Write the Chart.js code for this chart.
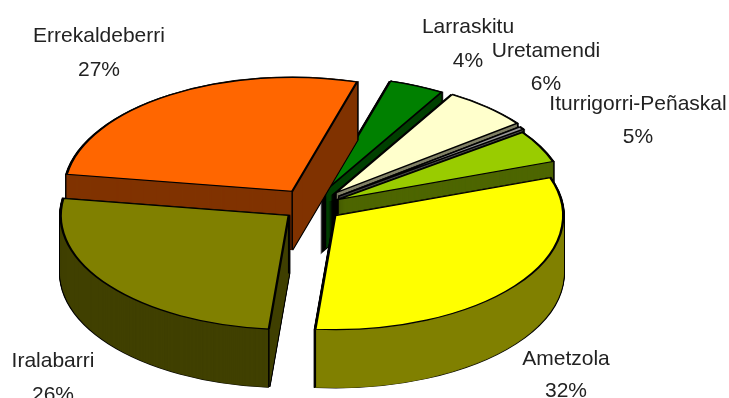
<!DOCTYPE html>
<html>
<head>
<meta charset="utf-8">
<style>
  html, body { margin: 0; padding: 0; background: #fff; overflow: hidden; }
  canvas { display: block; }
</style>
<script src="https://cdn.jsdelivr.net/npm/chart.js@4"></script>
</head>
<body>
<canvas id="pie" width="729" height="398"></canvas>
<script>
// clockwise from the left edge of Errekaldeberri
const categories = ["Errekaldeberri", "Larraskitu", "Uretamendi", "", "Iturrigorri-Peñaskal", "Ametzola", "Iralabarri"];
const values = [27.2, 3.9, 6.1, 0.4, 4.6, 31.8, 26];
const percentLabels = ["27%", "4%", "6%", "", "5%", "32%", "26%"];

const topColors = ["#FF6600", "#008000", "#FFFFCC", "#969696", "#99CC00", "#FFFF00", "#808000"];
const sideColors = ["#803300", "#004000", "#808066", "#4B4B4B", "#4D6600", "#808000", "#404000"];
const explode = [36, 35, 37, 34, 30, 30, 29];

// painter's order, back slices first
const drawOrder = [1, 2, 3, 4, 0, 6, 5];
const labelSpots = [[99, 42, 76], [468, 33, 67], [546, 57, 90], null, [638, 110, 143], [566, 365, 397], [53, 367, 401]];

const squash = 0.5;
const depth = 58;

function paintArc(ctx, arc, drop, fill, stroke, width) {
  const mid = (arc.startAngle + arc.endAngle) / 2;
  const saved = arc.options;
  arc.options = {
    offset: 0, spacing: 0, circular: true, borderRadius: 0,
    borderAlign: "center", borderJoinStyle: "miter", borderDash: [], borderDashOffset: 0,
    backgroundColor: fill, borderColor: stroke, borderWidth: width,
  };
  ctx.save();
  ctx.translate(0, drop + arc.y * (1 - squash));
  ctx.scale(1, squash);
  ctx.translate(Math.cos(mid) * saved.offset, Math.sin(mid) * saved.offset);
  arc.draw(ctx);
  ctx.restore();
  arc.options = saved;
}

// vertical edges at the apex and at rim corners facing the viewer
function paintEdges(ctx, arc) {
  const mid = (arc.startAngle + arc.endAngle) / 2;
  const ox = arc.x + Math.cos(mid) * arc.options.offset;
  const oy = arc.y + Math.sin(mid) * arc.options.offset * squash;
  const corners = [[ox, oy]];
  [arc.startAngle, arc.endAngle].forEach((a) => {
    if (Math.sin(a) > 0) {
      corners.push([ox + Math.cos(a) * arc.outerRadius, oy + Math.sin(a) * arc.outerRadius * squash]);
    }
  });
  ctx.save();
  ctx.strokeStyle = "#000";
  ctx.lineWidth = 1.5;
  corners.forEach(([x, y]) => {
    ctx.beginPath();
    ctx.moveTo(x, y);
    ctx.lineTo(x, y + depth);
    ctx.stroke();
  });
  ctx.restore();
}

const solidPie = {
  id: "solidPie",
  beforeDatasetDraw(chart, args) {
    const ctx = chart.ctx;
    const arcs = args.meta.data;
    drawOrder.forEach((i) => {
      const arc = arcs[i];
      for (let d = depth; d >= 0; d -= 1) paintArc(ctx, arc, d, "#000", "#000", 3.2);
      for (let d = depth; d >= 0; d -= 1) paintArc(ctx, arc, d, sideColors[i], sideColors[i], 1);
      paintEdges(ctx, arc);
      paintArc(ctx, arc, 0, topColors[i], "#000", 2.4);
    });
    return false;
  },
  afterDraw(chart) {
    const ctx = chart.ctx;
    ctx.save();
    ctx.font = '21px "Liberation Sans", Arial, sans-serif';
    ctx.fillStyle = "#222";
    ctx.textAlign = "center";
    ctx.textBaseline = "alphabetic";
    categories.forEach((name, i) => {
      const spot = labelSpots[i];
      if (!spot) return;
      ctx.fillText(name, spot[0], spot[1]);
      ctx.fillText(percentLabels[i], spot[0], spot[2]);
    });
    ctx.restore();
  },
};

new Chart(document.getElementById("pie").getContext("2d"), {
  type: "pie",
  data: {
    labels: categories,
    datasets: [{ data: values, backgroundColor: topColors, offset: explode, borderWidth: 0 }],
  },
  options: {
    responsive: false,
    animation: false,
    rotation: 278.6,
    radius: 228,
    layout: { padding: { right: 106, top: 15 } },
    plugins: { legend: { display: false }, tooltip: { enabled: false } },
  },
  plugins: [solidPie],
});
</script>
</body>
</html>
